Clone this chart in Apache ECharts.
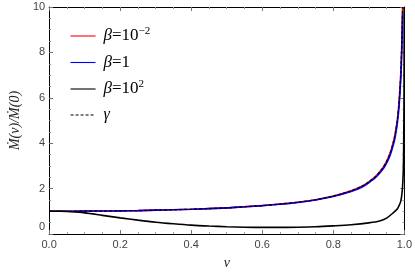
<!DOCTYPE html>
<html><head><meta charset="utf-8">
<script src="https://cdn.jsdelivr.net/npm/echarts@6/dist/echarts.min.js"></script>
<style>html,body{margin:0;padding:0;background:#fff}#c{width:415px;height:275px}</style>
</head><body><div id="c"></div>
<script>
// Values
const vUpper = [0, 0.05, 0.1, 0.15, 0.2, 0.25, 0.3, 0.35, 0.4, 0.45, 0.5, 0.55, 0.6, 0.65, 0.7, 0.75, 0.8, 0.85, 0.88, 0.9, 0.92, 0.94, 0.95, 0.96, 0.97, 0.975, 0.98, 0.985, 0.99, 0.993, 0.995];
const redVals = [1.0, 1.0, 1.01, 1.01, 1.02, 1.03, 1.05, 1.07, 1.09, 1.12, 1.15, 1.2, 1.25, 1.32, 1.4, 1.51, 1.67, 1.9, 2.1, 2.3, 2.55, 2.93, 3.2, 3.57, 4.11, 4.5, 5.0, 5.8, 7.1, 8.5, 10.0];
const blueVals = [1.0, 1.0, 1.01, 1.01, 1.02, 1.03, 1.05, 1.07, 1.09, 1.12, 1.15, 1.2, 1.25, 1.31, 1.39, 1.5, 1.65, 1.87, 2.06, 2.26, 2.5, 2.86, 3.12, 3.47, 3.98, 4.35, 4.85, 5.6, 6.85, 8.2, 9.7];
const gammaVals = [1.0, 1.0, 1.01, 1.01, 1.02, 1.03, 1.05, 1.07, 1.09, 1.12, 1.15, 1.2, 1.25, 1.32, 1.4, 1.51, 1.67, 1.9, 2.1, 2.3, 2.55, 2.93, 3.2, 3.57, 4.11, 4.5, 5.0, 5.8, 7.1, 8.5, 10.0];
const vBlack = [0, 0.03, 0.06, 0.1, 0.15, 0.2, 0.25, 0.3, 0.35, 0.4, 0.45, 0.5, 0.55, 0.6, 0.65, 0.7, 0.75, 0.8, 0.85, 0.9, 0.93, 0.95, 0.97, 0.98, 0.985, 0.99, 0.993, 0.995, 0.997, 0.998, 0.999, 0.9995];
const blackVals = [1.0, 1.0, 0.98, 0.93, 0.82, 0.71, 0.61, 0.52, 0.45, 0.39, 0.35, 0.32, 0.3, 0.29, 0.29, 0.3, 0.32, 0.36, 0.41, 0.49, 0.57, 0.7, 0.95, 1.1, 1.25, 1.45, 1.75, 2.1, 2.8, 3.8, 6.0, 10.0];
const seriesNames = ['b1', 'b2', 'b3', 'g'];
const xTicks = [0, 0.2, 0.4, 0.6, 0.8, 1.0];
const yTicks = [0, 2, 4, 6, 8, 10];

const zip = (xs, ys) => xs.map((x, i) => [x, ys[i]]);
const chart = echarts.init(document.getElementById('c'), null, {renderer: 'canvas'});
const tickLabel = {color: '#444', fontFamily: 'Liberation Sans, Arial, sans-serif', fontSize: 11};
const axisCommon = {
  axisLine: {show: true, onZero: false, lineStyle: {color: '#000', width: 1}},
  axisTick: {show: true, inside: true, length: 4, lineStyle: {color: '#777'}},
  minorTick: {show: true, splitNumber: 4, length: 2, lineStyle: {color: '#999'}},
  splitLine: {show: false}
};
const serif = 'Liberation Serif, DejaVu Serif, serif';
const legendRich = {
  b: {fontFamily: serif, fontStyle: 'italic', fontSize: 17, lineHeight: 20, color: '#000', padding: [0, 0, 0, 3]},
  g: {fontFamily: serif, fontStyle: 'italic', fontSize: 16, lineHeight: 20, color: '#000', padding: [0, 0, 0, 3]},
  n: {fontFamily: serif, fontSize: 17, lineHeight: 20, color: '#000'},
  s: {fontFamily: serif, fontSize: 11, lineHeight: 20, color: '#000', padding: [0, 0, 9, 0]}
};
const legendText = {
  b1: '{b|β}{n|=10}{s|−2}',
  b2: '{b|β}{n|=1}',
  b3: '{b|β}{n|=10}{s|2}',
  g: '{g|γ}'
};
chart.setOption({
  animation: false,
  grid: {left: 35, right: 8, top: 7, bottom: 38},
  legend: {
    orient: 'vertical', left: 65, top: 21, itemWidth: 25, itemHeight: 10, itemGap: 8,
    data: seriesNames,
    itemStyle: {opacity: 0},
    lineStyle: {width: 1.1},
    formatter: n => legendText[n],
    textStyle: {rich: legendRich}
  },
  xAxis: [
    Object.assign({type: 'value', min: 0, max: 1, interval: 0.2, position: 'bottom',
      name: 'v', nameLocation: 'middle', nameGap: 22,
      nameTextStyle: {fontFamily: serif, fontStyle: 'italic', fontSize: 14, color: '#222'},
      axisLabel: Object.assign({margin: 5, formatter: v => v.toFixed(1)}, tickLabel)}, axisCommon),
    Object.assign({type: 'value', min: 0, max: 1, interval: 0.2, position: 'top', axisLabel: {show: false}}, axisCommon)
  ],
  yAxis: [
    Object.assign({type: 'value', min: 0, max: 10, interval: 2, position: 'left',
      name: 'Ṁ(v)/Ṁ(0)', nameLocation: 'middle', nameGap: 22,
      nameTextStyle: {fontFamily: serif, fontStyle: 'italic', fontSize: 14, color: '#222'},
      axisLabel: Object.assign({margin: 4, formatter: v => v === 0 ? '{z|0}' : String(v),
        rich: {z: {fontSize: 11, color: '#444', fontFamily: 'Liberation Sans, Arial, sans-serif', padding: [0, 0, 14, 0]}}}, tickLabel)}, axisCommon),
    Object.assign({type: 'value', min: 0, max: 10, interval: 2, position: 'right', axisLabel: {show: false}}, axisCommon)
  ],
  series: [
    {name: 'b1', type: 'line', symbol: 'none', smooth: 0.3, data: zip(vUpper, redVals), lineStyle: {color: '#ff0000', width: 1.6}, itemStyle: {color: '#ff0000'}},
    {name: 'b2', type: 'line', symbol: 'none', smooth: 0.3, data: zip(vUpper, blueVals), lineStyle: {color: '#0000ff', width: 1.6}, itemStyle: {color: '#0000ff'}},
    {name: 'b3', type: 'line', symbol: 'none', smooth: 0.3, data: zip(vBlack, blackVals), lineStyle: {color: '#000', width: 1.6}, itemStyle: {color: '#000'}},
    {name: 'g', type: 'line', symbol: 'none', smooth: 0.3, data: zip(vUpper, gammaVals), lineStyle: {color: '#000', width: 1.2, type: [3, 2]}, itemStyle: {color: '#000'}}
  ]
});
</script>
</body></html>
